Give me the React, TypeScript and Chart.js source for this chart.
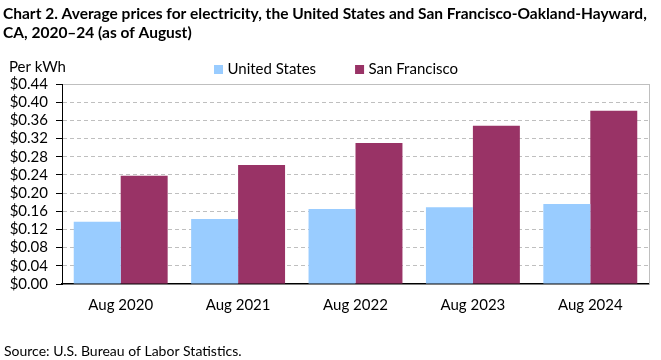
import React, { useEffect, useRef } from "react";
import { Chart, registerables } from "chart.js";

Chart.register(...registerables);

const categories = ["Aug 2020", "Aug 2021", "Aug 2022", "Aug 2023", "Aug 2024"];
const usValues = [0.137, 0.143, 0.165, 0.169, 0.176];
const sfValues = [0.238, 0.262, 0.310, 0.348, 0.381];
const seriesNames = ["United States", "San Francisco"];
const titleLines = [
  "Chart 2. Average prices for electricity, the United States and San Francisco-Oakland-Hayward,",
  "CA, 2020\u201324 (as of August)",
];
const yUnitLabel = "Per kWh";
const sourceText = "Source: U.S. Bureau of Labor Statistics.";
const yMin = 0;
const yMax = 0.44;
const yStep = 0.04;

const FONT = "Lato, 'Open Sans', sans-serif";
const US_COLOR = "#99CCFF";
const SF_COLOR = "#993366";
const GRID_COLOR = "#bfbfbf";

const decorPlugin = {
  id: "decor",
  afterDraw(chart: any) {
    const ctx = chart.ctx as CanvasRenderingContext2D;
    ctx.save();
    ctx.fillStyle = "#000";
    ctx.textBaseline = "alphabetic";
    ctx.textAlign = "left";
    // title
    ctx.font = `bold 15.5px ${FONT}`;
    ctx.fillText(titleLines[0], 3, 19);
    ctx.fillText(titleLines[1], 3, 37.5);
    // unit label
    ctx.font = `15px ${FONT}`;
    ctx.fillText(yUnitLabel, 9, 72);
    // legend
    let x = 214;
    chart.data.datasets.forEach((ds: any) => {
      ctx.fillStyle = ds.backgroundColor;
      ctx.fillRect(x, 65, 9, 9);
      ctx.fillStyle = "#000";
      ctx.fillText(ds.label, x + 13.5, 74);
      x += 13.5 + ctx.measureText(ds.label).width + 39;
    });
    // source
    ctx.font = `14px ${FONT}`;
    ctx.fillText(sourceText, 4, 356);
    ctx.restore();
  },
};

export default function App() {
  const ref = useRef<HTMLCanvasElement | null>(null);
  useEffect(() => {
    document.body.style.margin = "0";
    const chart = new Chart(ref.current as HTMLCanvasElement, {
      type: "bar",
      data: {
        labels: categories,
        datasets: [
          { label: seriesNames[0], data: usValues, backgroundColor: US_COLOR, yAxisID: "y" },
          { label: seriesNames[1], data: sfValues, backgroundColor: SF_COLOR, yAxisID: "y" },
        ],
      },
      options: {
        responsive: false,
        animation: false,
        events: [],
        layout: { padding: { top: 84, right: 12, bottom: 0, left: 0 } },
        datasets: { bar: { categoryPercentage: 0.8, barPercentage: 1.0 } },
        plugins: { legend: { display: false }, title: { display: false }, tooltip: { enabled: false } },
        scales: {
          x: {
            grid: { display: false, drawTicks: false },
            border: { color: "#000", width: 1.5 },
            ticks: { color: "#000", font: { family: FONT, size: 15 }, padding: 12 },
            afterFit: (s: any) => { s.height = 76; },
          },
          x2: {
            type: "category",
            position: "top",
            grid: { display: false, drawTicks: false },
            ticks: { display: false },
            border: { color: GRID_COLOR, width: 1 },
            afterFit: (s: any) => { s.height = 0; },
          },
          y: {
            min: yMin,
            max: yMax,
            ticks: {
              stepSize: yStep,
              autoSkip: false,
              color: "#000",
              font: { family: FONT, size: 15 },
              padding: 8,
              callback: (v: any) => "$" + Number(v).toFixed(2),
            },
            grid: {
              color: (c: any) => (c.tick && c.tick.value === 0 ? "rgba(0,0,0,0)" : GRID_COLOR),
              lineWidth: 1,
              drawTicks: true,
              tickLength: 6,
              tickColor: "#000",
              tickBorderDash: [],
            },
            border: { color: "#000", width: 1, dash: [4, 3] },
            afterFit: (s: any) => { s.width = 62; },
          },
          y2: {
            position: "right",
            min: yMin,
            max: yMax,
            grid: { display: false, drawTicks: false },
            ticks: { display: false },
            border: { color: GRID_COLOR, width: 1 },
            afterFit: (s: any) => { s.width = 0; },
          },
        },
      },
      plugins: [decorPlugin],
    });
    return () => chart.destroy();
  }, []);
  return (
    <div style={{ position: "absolute", left: 0, top: 0, width: 661, height: 360 }}>
      <canvas ref={ref} width={661} height={360} />
    </div>
  );
}
